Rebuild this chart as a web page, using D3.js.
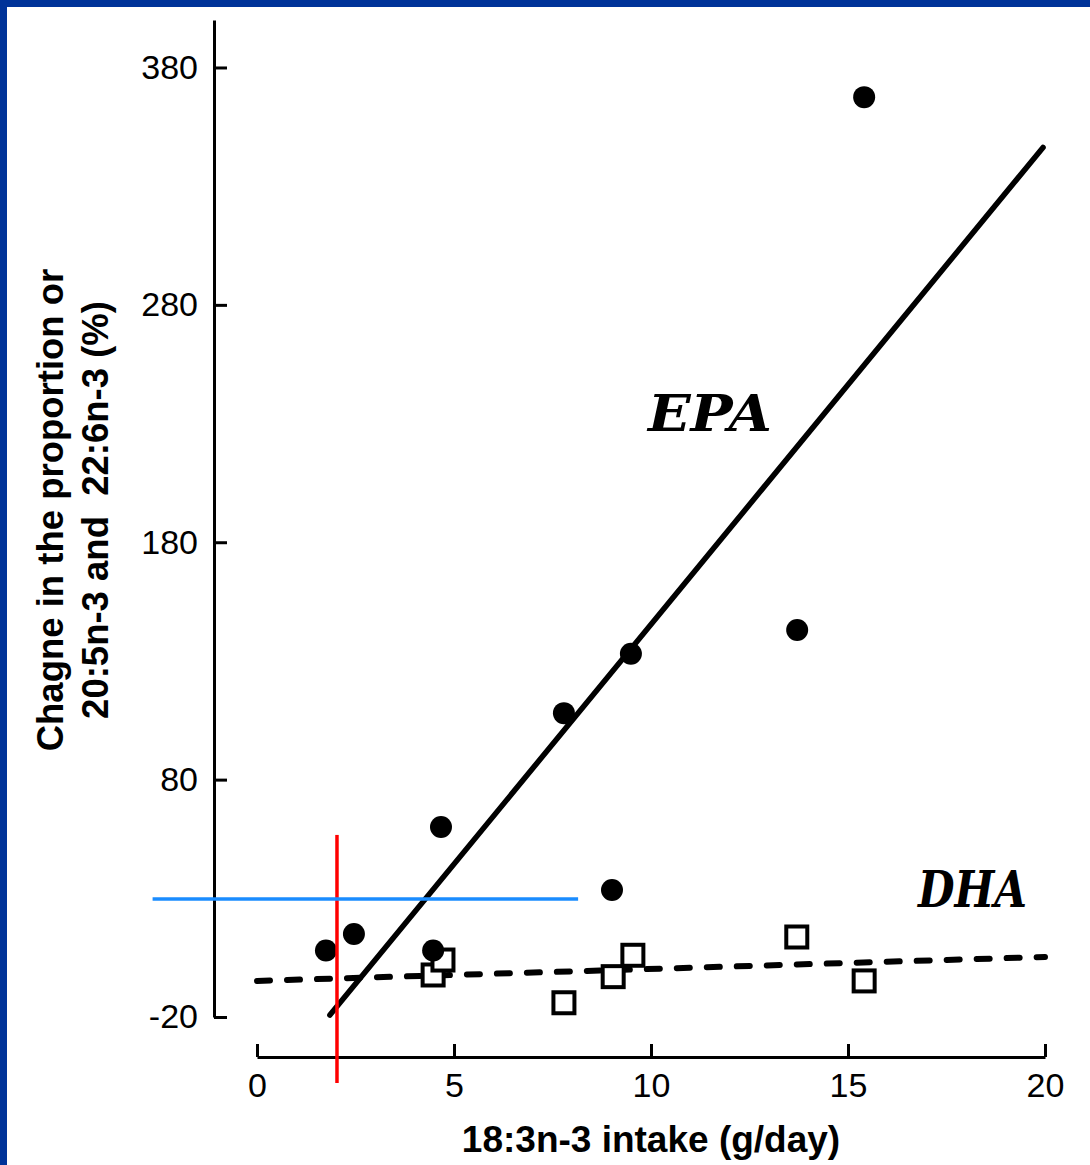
<!DOCTYPE html>
<html>
<head>
<meta charset="utf-8">
<script src="https://cdn.jsdelivr.net/npm/d3@7"></script>
<style>
  body { margin: 0; background: #fff; }
  svg { display: block; }
</style>
</head>
<body>
<div id="chart"></div>
<script>
// EPA (filled circles) and DHA (open squares)
const epaX = [1.75, 2.46, 4.67, 4.47, 7.79, 9.49, 9.01, 13.71, 15.41];
const epaY = [8, 15, 60, 8, 108, 133, 33.5, 143, 367.5];
const dhaX = [4.47, 4.72, 7.79, 9.04, 9.54, 13.7, 15.41];
const dhaY = [-2.3, 4, -14, -3, 6, 13.7, -4.8];

// regression lines (endpoints)
const epaFitX = [1.85, 19.95];
const epaFitY = [-19.2, 346.3];
const dhaFitX = [0, 20];
const dhaFitY = [-4.8, 5.3];

// hand drawn marks
const redX = 2.03, redY = [-47.8, 56.7];
const blueY = 29.7, blueX = [-2.65, 8.15];

const xTicks = [0, 5, 10, 15, 20];
const yTicks = [-20, 80, 180, 280, 380];

const width = 1090, height = 1165;

const svg = d3.select("#chart")
  .append("svg")
  .attr("width", width)
  .attr("height", height);

// blue slide border (top and left)
svg.append("rect").attr("x", 0).attr("y", 0).attr("width", width).attr("height", 7).attr("fill", "#003399");
svg.append("rect").attr("x", 0).attr("y", 0).attr("width", 7).attr("height", height).attr("fill", "#003399");

const x = d3.scaleLinear().domain([0, 20]).range([257, 1045]);
const y = d3.scaleLinear().domain([-20, 400]).range([1017, 20]);

// y axis
const gy = svg.append("g")
  .attr("transform", "translate(214,0)")
  .call(d3.axisLeft(y).tickValues(yTicks).tickSize(-13).tickSizeOuter(0).tickPadding(16));
gy.select(".domain").attr("stroke-width", 3);
gy.selectAll(".tick line").attr("stroke-width", 3);
gy.selectAll(".tick text")
  .style("font-family", "'Liberation Sans', Arial, sans-serif")
  .style("font-size", "34px")
  .attr("fill", "#000")
  .text(d => String(d));

// x axis
const gx = svg.append("g")
  .attr("transform", "translate(0,1057)")
  .call(d3.axisBottom(x).tickValues(xTicks).tickSize(-13).tickSizeOuter(0).tickPadding(16));
gx.select(".domain").attr("stroke-width", 3);
gx.selectAll(".tick line").attr("stroke-width", 3);
gx.selectAll(".tick text")
  .style("font-family", "'Liberation Sans', Arial, sans-serif")
  .style("font-size", "34px")
  .attr("fill", "#000");

// axis titles
svg.append("text")
  .attr("x", 651)
  .attr("y", 1152)
  .attr("text-anchor", "middle")
  .style("font-family", "'Liberation Sans', Arial, sans-serif")
  .style("font-weight", "bold")
  .style("font-size", "37px")
  .text("18:3n-3 intake (g/day)");

const yTitle = svg.append("text")
  .attr("transform", "translate(63,510) rotate(-90)")
  .attr("text-anchor", "middle")
  .style("font-family", "'Liberation Sans', Arial, sans-serif")
  .style("font-weight", "bold")
  .style("font-size", "36.5px");
yTitle.append("tspan").attr("x", 0).attr("y", 0).text("Chagne in the proportion or");
yTitle.append("tspan").attr("x", 0).attr("y", 45).style("white-space", "pre").text("20:5n-3 and  22:6n-3 (%)");

// fitted lines
const line = d3.line().x(d => x(d[0])).y(d => y(d[1]));

svg.append("path")
  .datum(d3.zip(dhaFitX, dhaFitY))
  .attr("d", line)
  .attr("fill", "none")
  .attr("stroke", "#000")
  .attr("stroke-width", 6)
  .attr("stroke-linecap", "round")
  .attr("stroke-dasharray", "13,17");

svg.append("path")
  .datum(d3.zip(epaFitX, epaFitY))
  .attr("d", line)
  .attr("fill", "none")
  .attr("stroke", "#000")
  .attr("stroke-width", 5.5)
  .attr("stroke-linecap", "round");

// DHA squares
svg.selectAll("rect.dha")
  .data(d3.zip(dhaX, dhaY))
  .enter()
  .append("rect")
  .classed("dha", true)
  .attr("x", d => x(d[0]) - 10.5)
  .attr("y", d => y(d[1]) - 10.5)
  .attr("width", 21)
  .attr("height", 21)
  .attr("fill", "#fff")
  .attr("stroke", "#000")
  .attr("stroke-width", 4);

// EPA circles
svg.selectAll("circle.epa")
  .data(d3.zip(epaX, epaY))
  .enter()
  .append("circle")
  .classed("epa", true)
  .attr("cx", d => x(d[0]))
  .attr("cy", d => y(d[1]))
  .attr("r", 11)
  .attr("fill", "#000");

// series labels
const labelFont = (sel) => sel
  .style("font-family", "'DejaVu Serif', serif")
  .style("font-weight", "bold")
  .style("font-style", "italic")
  .style("font-size", "50px")
  .attr("lengthAdjust", "spacingAndGlyphs");

svg.append("text").attr("x", 648).attr("y", 431).attr("textLength", 124).text("EPA").call(labelFont);
svg.append("text").attr("x", 918).attr("y", 907).attr("textLength", 109).text("DHA").call(labelFont);

// red and blue marks
svg.append("line")
  .attr("x1", x(redX)).attr("x2", x(redX))
  .attr("y1", y(redY[0])).attr("y2", y(redY[1]))
  .attr("stroke", "#ff0000")
  .attr("stroke-width", 3.5);

svg.append("line")
  .attr("x1", x(blueX[0])).attr("x2", x(blueX[1]))
  .attr("y1", y(blueY)).attr("y2", y(blueY))
  .attr("stroke", "#1a8cff")
  .attr("stroke-width", 3.5);
</script>
</body>
</html>
